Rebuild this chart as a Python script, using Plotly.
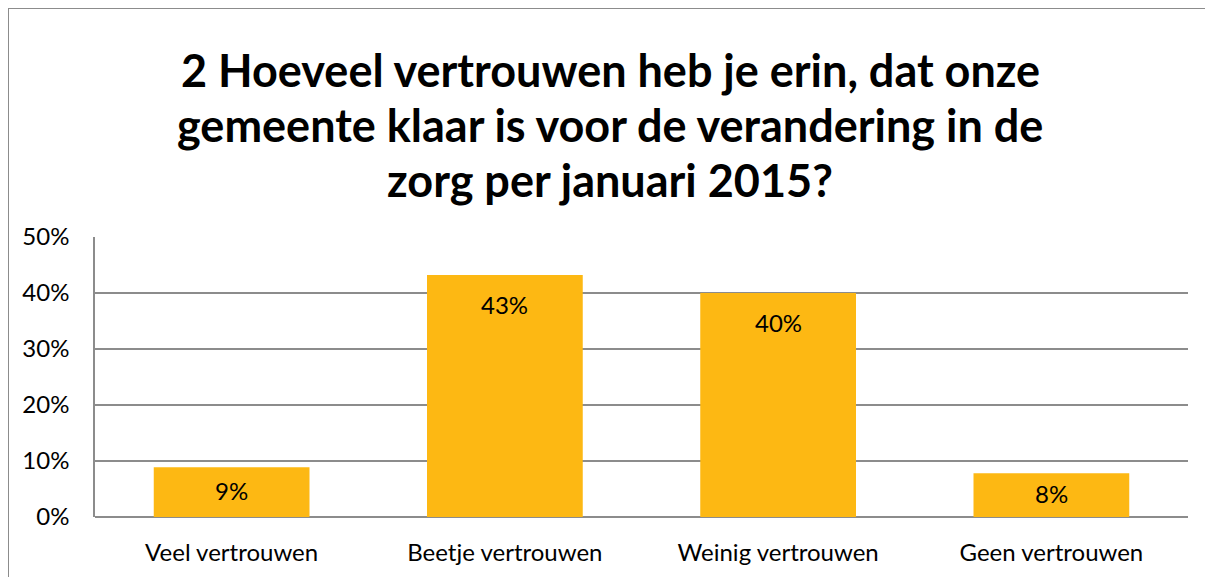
import plotly.graph_objects as go

categories = ["Veel vertrouwen", "Beetje vertrouwen", "Weinig vertrouwen", "Geen vertrouwen"]
values = [0.089, 0.432, 0.400, 0.078]
title_lines = [
    "2 Hoeveel vertrouwen heb je erin, dat onze",
    "gemeente klaar is voor de verandering in de",
    "zorg per januari 2015?",
]
ytick_vals = [0, 0.1, 0.2, 0.3, 0.4, 0.5]
ytick_text = ["0%", "10%", "20%", "30%", "40%", "50%"]

W, H = 1213, 577
# plot-area edges in figure pixels (page has an 8px body margin)
L, R, T, B = 87, 1180, 229, 509
FONT = "Lato, Open Sans, sans-serif"

fig = go.Figure(go.Bar(
    x=categories, y=values,
    marker=dict(color="#FDB813", line=dict(width=0)),
    width=0.57,
    hoverinfo="x+y",
))

def py(ypix):
    return (B - ypix) / (B - T)

def px(xpix):
    return (xpix - L) / (R - L)

annotations = []
for yc, line in zip([62, 117, 172], title_lines):
    annotations.append(dict(
        text=line, xref="paper", yref="paper", x=px(602), y=py(yc),
        xanchor="center", yanchor="middle", showarrow=False,
        font=dict(family=FONT, size=45, color="black", weight="bold"),
    ))

# data labels: inside end of the bar; short bars get the label centred
for c, v in zip(categories, values):
    if v >= 0.2:
        annotations.append(dict(x=c, y=v, yshift=-29, text=f"{v:.0%}",
                                showarrow=False, yanchor="middle",
                                font=dict(family=FONT, size=24, color="black")))
    else:
        annotations.append(dict(x=c, y=v / 2, yshift=2, text=f"{v:.0%}",
                                showarrow=False, yanchor="middle",
                                font=dict(family=FONT, size=24, color="black")))

fig.update_layout(
    width=W, height=H,
    margin=dict(l=L, r=W - R, t=T, b=H - B, autoexpand=False),
    paper_bgcolor="white", plot_bgcolor="white",
    showlegend=False,
    annotations=annotations,
    shapes=[dict(type="rect", xref="paper", yref="paper",
                 x0=px(0), x1=px(1240), y0=py(620), y1=py(0),
                 line=dict(color="#8c8c8c", width=2), layer="below")],
    xaxis=dict(
        showgrid=False, showline=False, zeroline=False,
        tickfont=dict(family=FONT, size=24, color="black"),
        ticklabelstandoff=19,
    ),
    yaxis=dict(
        range=[0, 0.5], tickvals=ytick_vals, ticktext=ytick_text,
        showgrid=True, gridcolor="#8c8c8c", gridwidth=1.5,
        zeroline=True, zerolinecolor="#8c8c8c", zerolinewidth=1.5,
        showline=True, linecolor="#8c8c8c", linewidth=1.5,
        tickfont=dict(family=FONT, size=24, color="black"),
        ticklabelstandoff=19,
    ),
)

fig.write_html("out.html")
